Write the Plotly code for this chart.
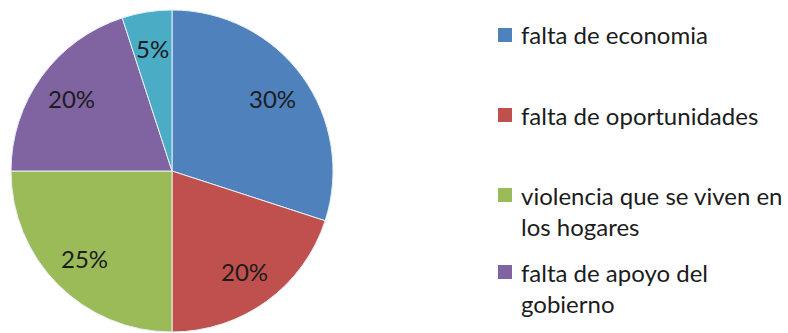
import math
import plotly.graph_objects as go

# Data
categories = [
    "falta de economia",
    "falta de oportunidades",
    "violencia que se viven en los hogares",
    "falta de apoyo del gobierno",
    "otros",
]
legend_lines = [
    ["falta de economia"],
    ["falta de oportunidades"],
    ["violencia que se viven en", "los hogares"],
    ["falta de apoyo del", "gobierno"],
]
values = [30, 20, 25, 20, 5]
colors = ["#4F81BD", "#C0504D", "#9BBB59", "#8064A2", "#4BACC6"]

W, H = 788, 333
FONT = "Lato, Carlito, Calibri, sans-serif"
TEXT_COLOR = "#1c1c1c"

# Pie geometry (pixels)
cx, cy, R = 172, 171, 161
dom_x = [(cx - R) / W, (cx + R) / W]
dom_y = [1 - (cy + R) / H, 1 - (cy - R) / H]

fig = go.Figure(
    go.Pie(
        labels=categories,
        values=values,
        sort=False,
        direction="clockwise",
        rotation=0,
        marker=dict(colors=colors, line=dict(color="#e8eef6", width=1)),
        textinfo="none",
        hoverinfo="label+percent",
        domain=dict(x=dom_x, y=dom_y),
        showlegend=False,
    )
)

annotations = []
shapes = []

# Percentage labels placed at a fixed fraction of the radius, mid-slice
total = sum(values)
start = 90.0
label_r = 0.77 * R
for v in values:
    sweep = 360.0 * v / total
    mid = math.radians(start - sweep / 2)
    px = cx + label_r * math.cos(mid)
    py = cy - label_r * math.sin(mid)
    annotations.append(dict(
        x=px / W, y=1 - py / H, xref="paper", yref="paper",
        text=f"{round(100 * v / total)}%", showarrow=False,
        xanchor="center", yanchor="middle",
        font=dict(family=FONT, size=24, color=TEXT_COLOR),
    ))
    start -= sweep

# Legend: colored squares with wrapped labels (rows that fit the canvas)
row_tops = [35, 115, 195, 272]
line_gap = 31
box_x0, box_size, text_x = 498, 14, 519
for lines, color, y0 in zip(legend_lines, colors, row_tops):
    shapes.append(dict(
        type="rect", xref="paper", yref="paper",
        x0=box_x0 / W, x1=(box_x0 + box_size) / W,
        y0=1 - (y0 + box_size / 2) / H, y1=1 - (y0 - box_size / 2) / H,
        fillcolor=color, line=dict(width=0),
    ))
    for k, line in enumerate(lines):
        annotations.append(dict(
            x=text_x / W, y=1 - (y0 + k * line_gap) / H,
            xref="paper", yref="paper", text=line, showarrow=False,
            xanchor="left", yanchor="middle",
            font=dict(family=FONT, size=24, color=TEXT_COLOR),
        ))

fig.update_layout(
    width=W, height=H,
    margin=dict(l=0, r=0, t=0, b=0),
    paper_bgcolor="white", plot_bgcolor="white",
    annotations=annotations, shapes=shapes,
)

fig.write_html("out.html")
